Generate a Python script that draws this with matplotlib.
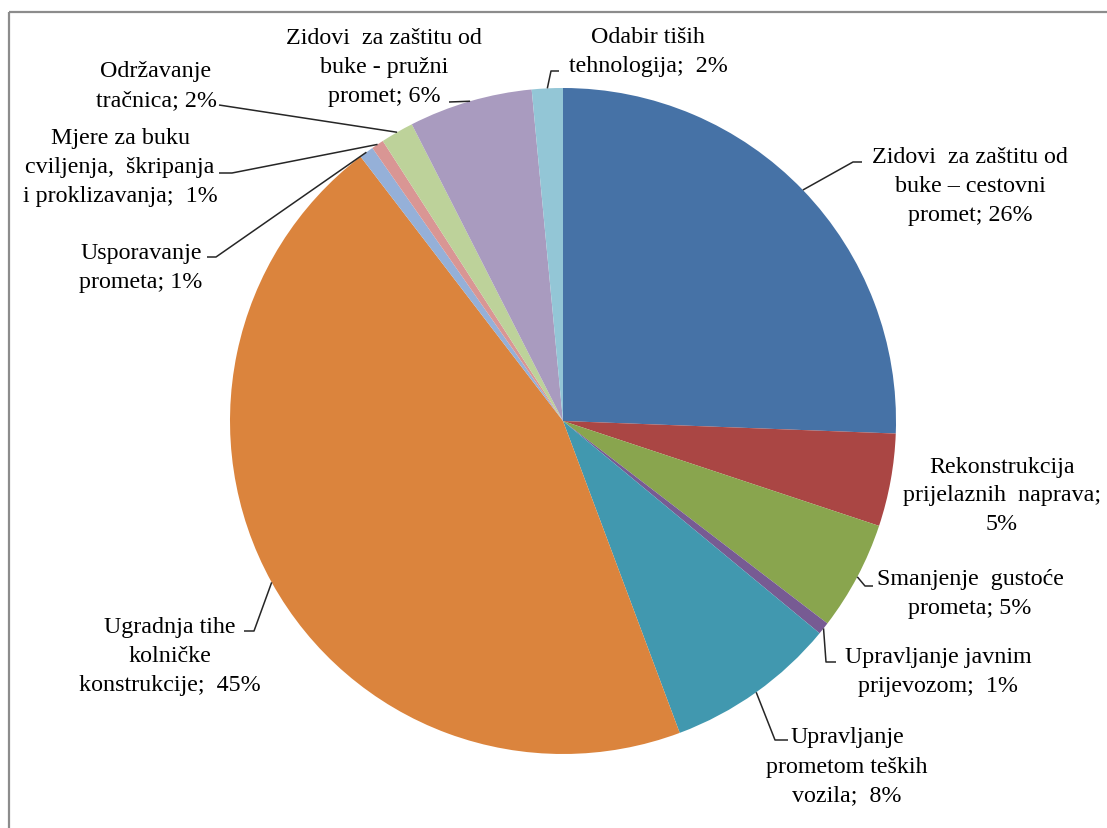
import numpy as np
import matplotlib
matplotlib.use("Agg")
import matplotlib.pyplot as plt
from matplotlib.patches import Rectangle

plt.rcParams["font.family"] = ["Liberation Serif", "DejaVu Serif"]

# Data (share in %)
labels = [
    "Zidovi  za zaštitu od\nbuke – cestovni\npromet; 26%",
    "Rekonstrukcija\nprijelaznih  naprava;\n5%",
    "Smanjenje  gustoće\nprometa; 5%",
    "Upravljanje javnim\nprijevozom;  1%",
    "Upravljanje\nprometom teških\nvozila;  8%",
    "Ugradnja tihe\nkolničke\nkonstrukcije;  45%",
    "Usporavanje\nprometa; 1%",
    "Mjere za buku\ncviljenja,  škripanja\ni proklizavanja;  1%",
    "Održavanje\ntračnica; 2%",
    "Zidovi  za zaštitu od\nbuke - pružni\npromet; 6%",
    "Odabir tiših\ntehnologija;  2%",
]
values = [25.6, 4.5, 5.3, 0.6, 8.3, 45.3, 0.7, 0.6, 1.6, 6.0, 1.5]
colors = ["#4672A6", "#AA4644", "#89A54E", "#775B93", "#4198AF", "#DB843D",
          "#95B0D8", "#D99694", "#BDD29A", "#A99BBF", "#93C6D6"]

# Layout in pixels (y downwards)
W, H = 1107, 829
cx, cy, r = 563, 422, 333

# label centre, and leader polyline (elbow, end); None -> no leader
label_pos = [(970, 186), (1002, 496), (970, 594), (938, 672), (847, 767),
             (170, 657), (141, 268), (120, 167), (156, 86), (384, 67), (648, 52)]
leaders = [
    [(853, 163), (862, 163)],
    None,
    [(865, 587), (873, 587)],
    [(826, 663), (836, 663)],
    [(775, 741), (788, 741)],
    [(254, 632), (244, 632)],
    [(216, 258), (207, 258)],
    [(232, 174), (219, 174)],
    [(219, 106), (219, 106)],
    [(449, 103), (449, 103)],
    [(551, 72), (559, 72)],
]

fig = plt.figure(figsize=(W / 100, H / 100), dpi=100)
fig.patch.set_facecolor("white")
ax = fig.add_axes([0, 0, 1, 1])

wedges, _ = ax.pie(values, colors=colors, startangle=270, counterclock=True,
                   center=(cx, cy), radius=r,
                   wedgeprops=dict(linewidth=0), frame=True)
ax.set_xlim(0, W)
ax.set_ylim(H, 0)
ax.set_aspect("equal")
ax.axis("off")

# chart area border
ax.add_patch(Rectangle((9, 13), 1300, 1000, fill=False, edgecolor="#8c8c8c",
                       linewidth=1.6, clip_on=True))

for w, lab, pos, ld in zip(wedges, labels, label_pos, leaders):
    ax.text(pos[0], pos[1], lab, ha="center", va="center", fontsize=17.3,
            color="black", linespacing=1.5)
    if ld is None:
        continue
    mid = np.deg2rad((w.theta1 + w.theta2) / 2)
    ax0 = cx + r * np.cos(mid)
    ay0 = cy + r * np.sin(mid)
    xs = [ax0] + [p[0] for p in ld]
    ys = [ay0] + [p[1] for p in ld]
    ax.plot(xs, ys, color="#262626", linewidth=1.1, solid_capstyle="butt")

fig.savefig("out.png", dpi=100, facecolor="white")
